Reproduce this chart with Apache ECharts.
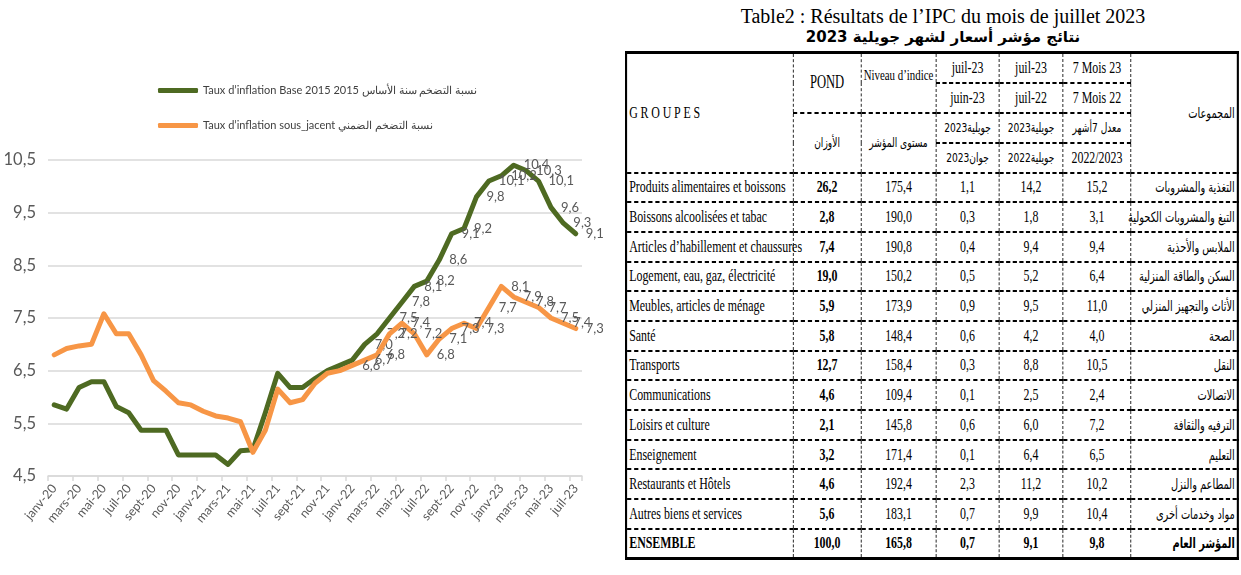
<!DOCTYPE html>
<html>
<head>
<meta charset="utf-8">
<script src="https://cdn.jsdelivr.net/npm/echarts@6/dist/echarts.min.js"></script>
<style>
  html, body { margin: 0; padding: 0; background: #fff; }
  body { width: 1241px; height: 575px; overflow: hidden; position: relative; font-family: 'Liberation Serif', 'DejaVu Sans', serif; color: #000; }
  #chart { position: absolute; left: 0; top: 0; width: 620px; height: 575px; }
  #title { position: absolute; left: 640px; width: 606px; top: 5px; text-align: center; }
  #title .fr { font-size: 20px; line-height: 22px; }
  #title .ttl-ar { font-size: 15px; line-height: 20px; font-weight: bold; text-align: center; direction: rtl; font-family: 'DejaVu Sans', 'Liberation Serif', sans-serif; }
  #tblwrap { position: absolute; left: 625px; top: 51px; width: 874px; transform: scaleX(0.7); transform-origin: 0 0; }
  table { border-collapse: collapse; table-layout: fixed; width: 874px; border: 3px solid #000; font-size: 17px; }
  td, th { font-weight: normal; padding: 0 3px; white-space: nowrap; overflow: visible; text-align: center; vertical-align: middle;
           border-left: 1.4px dashed #000; border-right: 1.4px dashed #000; border-top: 2px dashed #000; border-bottom: 2px dashed #000; }
  tr.h { height: 30px; }
  tr.h td.thin { border-bottom: 1.4px dashed #000; }
  tr.b { height: 29.7px; }
  .l { text-align: left; }
  .ar { direction: rtl; text-align: right; font-family: 'DejaVu Sans', 'Liberation Serif', sans-serif; font-size: 14px; }
  .c { text-align: center; }
  .bold { font-weight: bold; }
  .grp { letter-spacing: 4px; text-align: left; }
  .pond { font-size: 18px; }
  .niv { font-size: 15.5px; padding: 0 1px; vertical-align: top; padding-top: 12px; }
</style>
</head>
<body>
<div id="chart"></div>
<div id="title">
  <div class="fr">Table2 : Résultats de l’IPC du mois de juillet 2023</div>
  <div class="ttl-ar" dir="rtl">نتائج مؤشر أسعار لشهر جويلية 2023</div>
</div>
<div id="tblwrap"><table id="tbl"></table></div>
<script>
// ---------- Chart data ----------
const months = ['janv-20','févr-20','mars-20','avr-20','mai-20','juin-20','juil-20','août-20','sept-20','oct-20','nov-20','déc-20',
  'janv-21','févr-21','mars-21','avr-21','mai-21','juin-21','juil-21','août-21','sept-21','oct-21','nov-21','déc-21',
  'janv-22','févr-22','mars-22','avr-22','mai-22','juin-22','juil-22','août-22','sept-22','oct-22','nov-22','déc-22',
  'janv-23','févr-23','mars-23','avr-23','mai-23','juin-23','juil-23'];
const inflationBase2015 = [5.85,5.77,6.18,6.29,6.29,5.82,5.7,5.37,5.37,5.37,4.9,4.9,4.9,4.9,4.72,4.98,5.0,5.7,6.45,6.18,6.18,6.35,6.5,6.6,6.7,7.0,7.2,7.5,7.8,8.1,8.2,8.6,9.1,9.2,9.8,10.1,10.2,10.4,10.3,10.1,9.6,9.3,9.1];
const inflationSousJacent = [6.8,6.92,6.97,7.0,7.58,7.2,7.2,6.8,6.31,6.11,5.89,5.85,5.73,5.64,5.6,5.53,4.95,5.37,6.15,5.89,5.95,6.26,6.45,6.5,6.6,6.7,6.8,7.2,7.4,7.2,6.8,7.1,7.3,7.4,7.3,7.7,8.1,7.9,7.8,7.7,7.5,7.4,7.3];
const seriesNames = ['Taux d\u2019inflation Base 2015 نسبة التضخم سنة الأساس 2015', 'Taux d\u2019inflation sous_jacent نسبة التضخم الضمني'];
const labelStart = [25, 24];
const yTicks = { min: 4.5, max: 10.5, step: 1 };

// ---------- Table data ----------
const groupsFr = ['Produits alimentaires et boissons','Boissons alcoolisées et tabac','Articles d\u2019habillement et chaussures','Logement, eau, gaz, électricité','Meubles, articles de ménage','Santé','Transports','Communications','Loisirs et culture','Enseignement','Restaurants et Hôtels','Autres biens et services','ENSEMBLE'];
const weights = ['26,2','2,8','7,4','19,0','5,9','5,8','12,7','4,6','2,1','3,2','4,6','5,6','100,0'];
const indexLevels = ['175,4','190,0','190,8','150,2','173,9','148,4','158,4','109,4','145,8','171,4','192,4','183,1','165,8'];
const monthlyChange = ['1,1','0,3','0,4','0,5','0,9','0,6','0,3','0,1','0,6','0,1','2,3','0,7','0,7'];
const yearlyChange = ['14,2','1,8','9,4','5,2','9,5','4,2','8,8','2,5','6,0','6,4','11,2','9,9','9,1'];
const avg7Months = ['15,2','3,1','9,4','6,4','11,0','4,0','10,5','2,4','7,2','6,5','10,2','10,4','9,8'];
const groupsAr = ['التغذية والمشروبات','التبغ والمشروبات الكحولية','الملابس والأحذية','السكن والطاقة المنزلية','الأثاث والتجهيز المنزلي','الصحة','النقل','الاتصالات','الترفيه والثقافة','التعليم','المطاعم والنزل','مواد وخدمات أخرى','المؤشر العام'];
const headDateCols = [
  ['juil-23', 'juin-23', 'جويلية2023', 'جوان2023'],
  ['juil-23', 'juil-22', 'جويلية2023', 'جويلية2022'],
  ['7 Mois 23', '7 Mois 22', 'معدل 7أشهر', '2022/2023']
];
const headText = { groupes: 'GROUPES', pond: 'POND', niveau: 'Niveau d\u2019indice', pondAr: 'الأوزان', niveauAr: 'مستوى المؤشر', groupesAr: 'المجموعات' };
const colWidths = [238.6, 97.1, 107.1, 90, 91.4, 97.1, 152.9];

// ---------- Build table ----------
(function buildTable() {
  const t = document.getElementById('tbl');
  let html = '<colgroup>' + colWidths.map(w => '<col style="width:' + w + 'px">').join('') + '</colgroup>';
  const isAr = s => /[\u0600-\u06FF]/.test(s);
  const arStyle = ' dir="rtl" style="font-family:\'DejaVu Sans\',sans-serif;font-size:13px"';
  const dc = (s, cls) => '<td class="' + (cls || '') + '"' + (isAr(s) ? arStyle : '') + '>' + s + '</td>';
  html += '<tr class="h"><td rowspan="4" class="grp">' + headText.groupes + '</td>' +
          '<td rowspan="2" class="pond">' + headText.pond + '</td>' +
          '<td rowspan="2" class="niv">' + headText.niveau + '</td>' +
          dc(headDateCols[0][0], 'thin') + dc(headDateCols[1][0], 'thin') + dc(headDateCols[2][0], 'thin') +
          '<td rowspan="4" class="ar">' + headText.groupesAr + '</td></tr>';
  html += '<tr class="h">' + dc(headDateCols[0][1]) + dc(headDateCols[1][1]) + dc(headDateCols[2][1]) + '</tr>';
  html += '<tr class="h"><td rowspan="2"' + arStyle + '>' + headText.pondAr + '</td>' +
          '<td rowspan="2"' + arStyle + '>' + headText.niveauAr + '</td>' +
          dc(headDateCols[0][2], 'thin') + dc(headDateCols[1][2], 'thin') + dc(headDateCols[2][2], 'thin') + '</tr>';
  html += '<tr class="h">' + dc(headDateCols[0][3]) + dc(headDateCols[1][3]) + dc(headDateCols[2][3]) + '</tr>';
  for (let i = 0; i < groupsFr.length; i++) {
    const last = i === groupsFr.length - 1;
    const b = last ? ' bold' : '';
    html += '<tr class="b">' +
      '<td class="l' + b + '">' + groupsFr[i] + '</td>' +
      '<td class="c bold">' + weights[i] + '</td>' +
      '<td class="c' + b + '">' + indexLevels[i] + '</td>' +
      '<td class="c' + b + '">' + monthlyChange[i] + '</td>' +
      '<td class="c' + b + '">' + yearlyChange[i] + '</td>' +
      '<td class="c' + b + '">' + avg7Months[i] + '</td>' +
      '<td class="ar' + b + '">' + groupsAr[i] + '</td></tr>';
  }
  t.innerHTML = html;
})();

// ---------- Chart ----------
const fmt = v => (Math.round(v * 10) / 10).toFixed(1).replace('.', ',');
const colors = ['#4e6a22', '#f79646'];
function buildData(values, start) {
  return values.map((v, i) => i >= start ? { value: v, label: { show: true } } : v);
}
const chart = echarts.init(document.getElementById('chart'), null, { renderer: 'canvas' });
const labelCommon = {
  show: false, position: 'right', distance: 9, color: '#595959', fontSize: 13, fontFamily: 'Lato',
  formatter: p => fmt(p.value)
};
chart.setOption({
  animation: false,
  backgroundColor: '#fff',
  color: colors,
  legend: {
    orient: 'vertical', left: 153, top: 80, itemWidth: 40, itemHeight: 5, itemGap: 24, icon: 'roundRect',
    textStyle: { fontSize: 11, color: '#404040', fontFamily: 'Lato' },
    data: seriesNames
  },
  grid: { left: 48, right: 38, top: 160, bottom: 99, outerBoundsMode: 'none' },
  xAxis: {
    type: 'category', data: months, boundaryGap: true,
    axisLine: { lineStyle: { color: '#d9d9d9', width: 1.5 } },
    axisTick: { show: true, interval: 1, length: 5, lineStyle: { color: '#d9d9d9', width: 1.5 } },
    axisLabel: { interval: 1, rotate: 50, color: '#595959', fontSize: 12.5, fontFamily: 'Lato', margin: 10 },
    splitLine: { show: false }
  },
  yAxis: {
    type: 'value', min: yTicks.min, max: yTicks.max, interval: yTicks.step,
    axisLine: { show: false }, axisTick: { show: false },
    axisLabel: { color: '#595959', fontSize: 16.5, fontFamily: 'Lato', margin: 12, formatter: v => fmt(v) },
    splitLine: { lineStyle: { color: '#d9d9d9', width: 1.5 } }
  },
  series: [
    {
      name: seriesNames[0], type: 'line', data: buildData(inflationBase2015, labelStart[0]),
      symbol: 'circle', symbolSize: 2, showSymbol: true, smooth: false,
      lineStyle: { width: 5, color: colors[0], cap: 'round', join: 'round' },
      itemStyle: { color: colors[0] }, label: labelCommon, emphasis: { disabled: true }, z: 2
    },
    {
      name: seriesNames[1], type: 'line', data: buildData(inflationSousJacent, labelStart[1]),
      symbol: 'circle', symbolSize: 2, showSymbol: true, smooth: false,
      lineStyle: { width: 5, color: colors[1], cap: 'round', join: 'round' },
      itemStyle: { color: colors[1] }, label: labelCommon, emphasis: { disabled: true }, z: 3
    }
  ]
});
</script>
</body>
</html>
